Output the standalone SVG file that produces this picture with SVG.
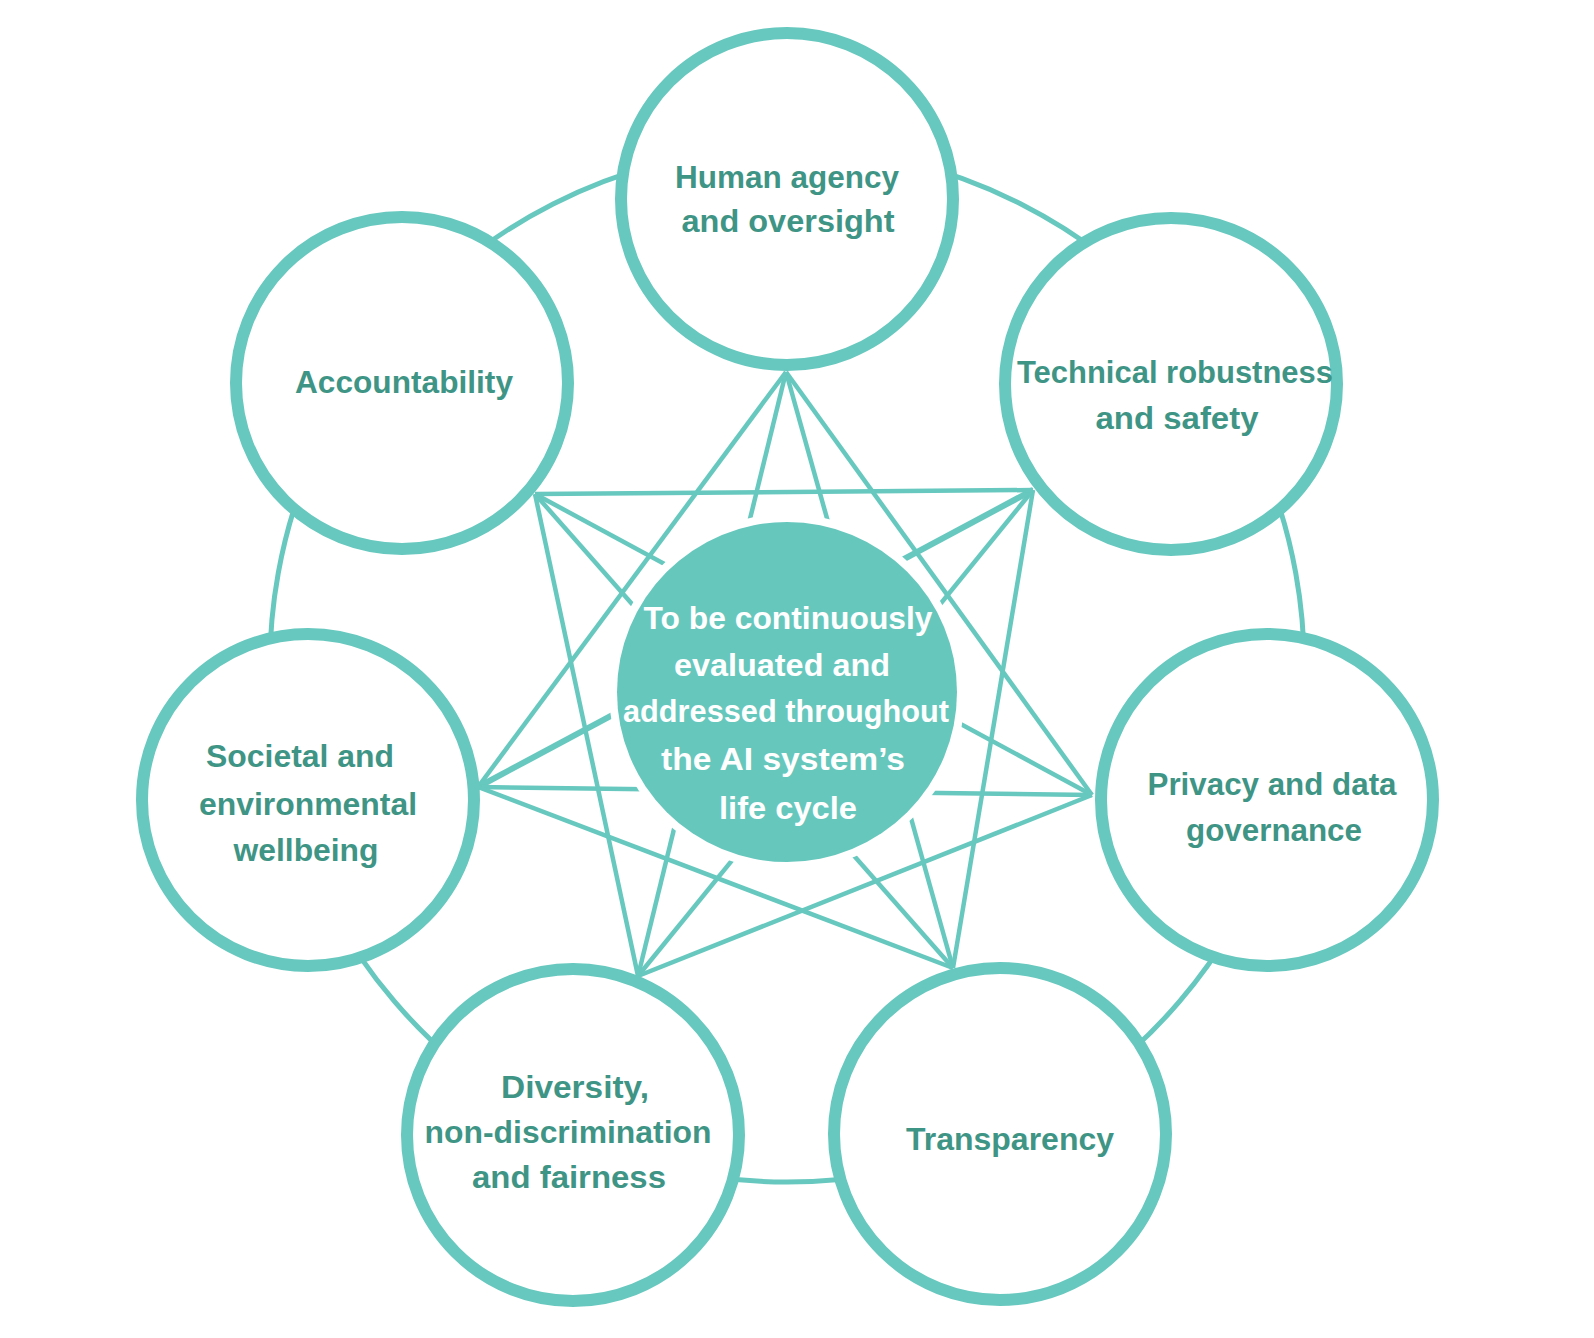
<svg xmlns="http://www.w3.org/2000/svg" width="1594" height="1338" viewBox="0 0 1594 1338">
<style>
.ring{fill:none;stroke:#66c8be;stroke-width:5}
.ln{stroke:#66c8be;stroke-width:4.5;fill:none}
.node{fill:#ffffff;stroke:#66c8be;stroke-width:12}
.lbl{font-family:"Liberation Sans",Arial,sans-serif;font-weight:bold;font-size:31px;fill:#3f9585;text-anchor:middle}
.clbl{font-family:"Liberation Sans",Arial,sans-serif;font-weight:bold;font-size:30.5px;fill:#ffffff;text-anchor:middle}
</style>
<rect width="1594" height="1338" fill="#ffffff"/>
<g id="connectors">
  <path class="ring" d="M787,148 A517,517 0 0 1 1204.2,359.7"/>
  <path class="ring" d="M1204.2,359.7 A517,517 0 0 1 1284.7,804.9"/>
  <path class="ring" d="M1284.7,804.9 A517,517 0 0 1 1001.4,1135.5"/>
  <path class="ring" d="M1001.4,1135.5 A517,517 0 0 1 572.6,1135.5"/>
  <path class="ring" d="M572.6,1135.5 A517,517 0 0 1 289.3,804.9"/>
  <path class="ring" d="M289.3,804.9 A517,517 0 0 1 369.8,359.7"/>
  <path class="ring" d="M369.8,359.7 A517,517 0 0 1 787,148"/>
  <line class="ln" x1="786" y1="372" x2="1092" y2="795"/>
  <line class="ln" x1="786" y1="372" x2="953" y2="968"/>
  <line class="ln" x1="786" y1="372" x2="638" y2="976"/>
  <line class="ln" x1="786" y1="372" x2="478" y2="787"/>
  <line class="ln" x1="1033" y1="490" x2="953" y2="968"/>
  <line class="ln" x1="1033" y1="490" x2="638" y2="976"/>
  <line class="ln" x1="1033" y1="490" x2="478" y2="787" style="stroke-width:6"/>
  <line class="ln" x1="1033" y1="490" x2="535" y2="494"/>
  <line class="ln" x1="1092" y1="795" x2="638" y2="976"/>
  <line class="ln" x1="1092" y1="795" x2="478" y2="787"/>
  <line class="ln" x1="1092" y1="795" x2="535" y2="494"/>
  <line class="ln" x1="953" y1="968" x2="478" y2="787"/>
  <line class="ln" x1="953" y1="968" x2="535" y2="494"/>
  <line class="ln" x1="638" y1="976" x2="535" y2="494"/>
</g>
<g id="center">
  <circle cx="787" cy="692" r="178" fill="#ffffff"/>
  <circle cx="787" cy="692" r="170" fill="#66c7bd"/>
  <text class="clbl" x="788" y="629" textLength="289" lengthAdjust="spacingAndGlyphs">To be continuously</text>
  <text class="clbl" x="782" y="676" textLength="216" lengthAdjust="spacingAndGlyphs">evaluated and</text>
  <text class="clbl" x="786" y="722" textLength="326" lengthAdjust="spacingAndGlyphs">addressed throughout</text>
  <text class="clbl" x="783" y="770" textLength="244" lengthAdjust="spacingAndGlyphs">the AI system’s</text>
  <text class="clbl" x="788" y="819" textLength="138" lengthAdjust="spacingAndGlyphs">life cycle</text>
</g>
<g id="human-agency">
  <circle class="node" cx="787" cy="199" r="166"/>
  <text class="lbl" x="787" y="188" textLength="224" lengthAdjust="spacingAndGlyphs">Human agency</text>
  <text class="lbl" x="788" y="232" textLength="213" lengthAdjust="spacingAndGlyphs">and oversight</text>
</g>
<g id="technical-robustness">
  <circle class="node" cx="1171" cy="384" r="166"/>
  <text class="lbl" x="1175" y="383" textLength="316" lengthAdjust="spacingAndGlyphs">Technical robustness</text>
  <text class="lbl" x="1177" y="429" textLength="163" lengthAdjust="spacingAndGlyphs">and safety</text>
</g>
<g id="privacy">
  <circle class="node" cx="1267" cy="800" r="166"/>
  <text class="lbl" x="1272" y="795" textLength="249" lengthAdjust="spacingAndGlyphs">Privacy and data</text>
  <text class="lbl" x="1274" y="841" textLength="176" lengthAdjust="spacingAndGlyphs">governance</text>
</g>
<g id="transparency">
  <circle class="node" cx="1000" cy="1134" r="166"/>
  <text class="lbl" x="1010" y="1150" textLength="208" lengthAdjust="spacingAndGlyphs">Transparency</text>
</g>
<g id="diversity">
  <circle class="node" cx="573" cy="1135" r="166"/>
  <text class="lbl" x="575" y="1098" textLength="148" lengthAdjust="spacingAndGlyphs">Diversity,</text>
  <text class="lbl" x="568" y="1143" textLength="287" lengthAdjust="spacingAndGlyphs">non-discrimination</text>
  <text class="lbl" x="569" y="1188" textLength="194" lengthAdjust="spacingAndGlyphs">and fairness</text>
</g>
<g id="societal">
  <circle class="node" cx="308" cy="800" r="166"/>
  <text class="lbl" x="300" y="767" textLength="188" lengthAdjust="spacingAndGlyphs">Societal and</text>
  <text class="lbl" x="308" y="815" textLength="218" lengthAdjust="spacingAndGlyphs">environmental</text>
  <text class="lbl" x="306" y="861" textLength="145" lengthAdjust="spacingAndGlyphs">wellbeing</text>
</g>
<g id="accountability">
  <circle class="node" cx="402" cy="383" r="166"/>
  <text class="lbl" x="404" y="393" textLength="218" lengthAdjust="spacingAndGlyphs">Accountability</text>
</g>
</svg>
